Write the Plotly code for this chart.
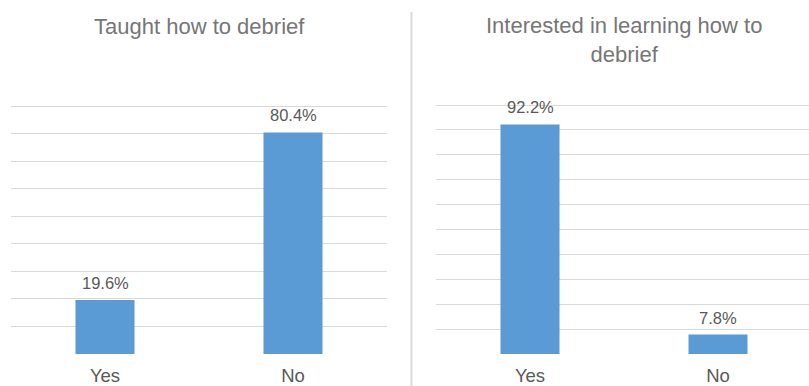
import plotly.graph_objects as go

# Survey responses (percent)
categories = ["Yes", "No"]
taught_values = [19.6, 80.4]
interested_values = [92.2, 7.8]
titles = ["Taught how to debrief", "Interested in learning how to<br>debrief"]

W, H = 809, 386
BAR = "#5B9BD5"
GRID = "#D9D9D9"
TXT = "#595959"
TITLE = "#767676"
FONT = "Liberation Sans, Arial, sans-serif"


def px_x(p):
    return p / W


def px_y(p):
    return 1 - p / H


fig = go.Figure()

panels = [("", taught_values), ("2", interested_values)]
for sfx, vals in panels:
    fig.add_trace(go.Bar(
        x=categories, y=vals,
        xaxis="x" + sfx, yaxis="y" + sfx,
        marker=dict(color=BAR, line=dict(width=0)),
        showlegend=False,
        hoverinfo="skip",
    ))
    # value labels above each bar
    for c, v in zip(categories, vals):
        fig.add_annotation(
            x=c, y=v, xref="x" + sfx, yref="y" + sfx,
            text=f"{v:.1f}%", showarrow=False,
            xanchor="center", yanchor="bottom", yshift=6,
            font=dict(size=16.5, color=TXT, family=FONT),
        )

axis_common = dict(showline=False, zeroline=False, ticks="", fixedrange=True)

# y ranges run slightly past the last gridline so that line is drawn
left_scale = 248 / 90
right_scale = 249 / 100
left_top = 91
right_top = 101

fig.update_layout(
    width=W, height=H,
    margin=dict(l=0, r=0, t=0, b=0),
    paper_bgcolor="white", plot_bgcolor="white",
    bargap=0.686,
    font=dict(family=FONT, color=TXT),
    xaxis=dict(domain=[px_x(11), px_x(387)], range=[-0.5, 1.5],
               showgrid=False, tickfont=dict(size=18.5, color=TXT),
               ticklabelstandoff=8, **axis_common),
    yaxis=dict(domain=[px_y(354), px_y(354 - left_top * left_scale)],
               range=[0, left_top], tick0=0, dtick=10,
               showgrid=True, gridcolor=GRID, gridwidth=1.3,
               showticklabels=False, **axis_common),
    xaxis2=dict(domain=[px_x(436), 1.0], range=[-0.5, 1.484], anchor="y2",
                showgrid=False, tickfont=dict(size=18.5, color=TXT),
                ticklabelstandoff=8, **axis_common),
    yaxis2=dict(domain=[px_y(354), px_y(354 - right_top * right_scale)],
                range=[0, right_top], tick0=0, dtick=10,
                anchor="x2", showgrid=True, gridcolor=GRID, gridwidth=1.3,
                showticklabels=False, **axis_common),
)

# Panel titles
fig.add_annotation(text=titles[0], xref="paper", yref="paper",
                   x=px_x(199), y=px_y(12), xanchor="center", yanchor="top",
                   showarrow=False, font=dict(size=22, color=TITLE, family=FONT))
fig.add_annotation(text=titles[1], xref="paper", yref="paper",
                   x=px_x(624), y=px_y(11), xanchor="center", yanchor="top",
                   showarrow=False, font=dict(size=22, color=TITLE, family=FONT))

# Divider between the two panels
fig.add_shape(type="line", xref="paper", yref="paper",
              x0=px_x(411.5), x1=px_x(411.5), y0=0, y1=px_y(12),
              line=dict(color="#D9D9D9", width=2))

fig.write_html("out.html")
